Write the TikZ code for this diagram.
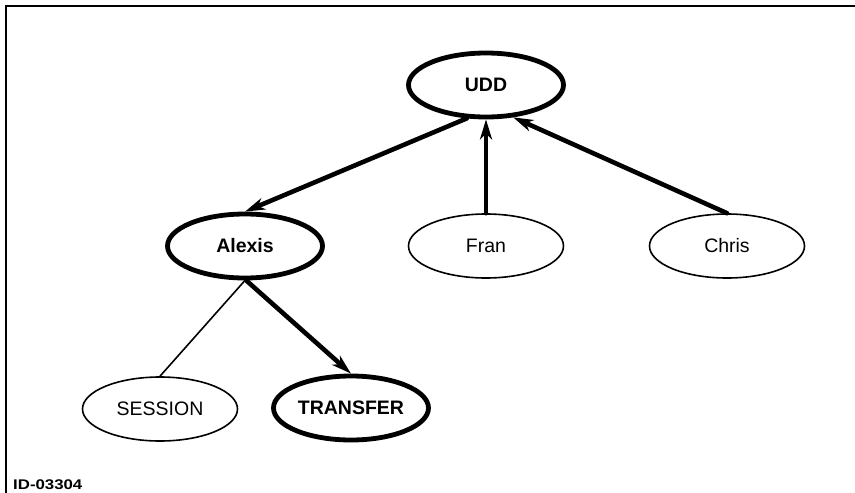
\documentclass[tikz,border=0pt]{standalone}
\usepackage{fontspec}
\setmainfont{Liberation Sans}
\usetikzlibrary{shapes.geometric,arrows.meta}
\begin{document}
\begin{tikzpicture}[x=1pt,y=-1pt,
  every node/.style={font=\fontsize{19.5}{22}\selectfont},
  oval/.style={ellipse,draw,minimum width=155pt,minimum height=64pt,inner sep=0pt},
  heavy/.style={oval,line width=4.8pt,font=\bfseries\fontsize{19.5}{22}\selectfont},
  light/.style={oval,line width=1.6pt},
  flow/.style={line width=4.6pt,line cap=round,-{Stealth[length=20pt,width=12pt,inset=6pt]}},
  link/.style={line width=1.6pt},
  frame/.style={line width=2pt}]
\useasboundingbox (0,0) rectangle (855,493);

% open frame: top and left edges only
\coordinate (tr) at (855,6);
\coordinate (corner) at (6,6);
\coordinate (bl) at (6,493);
\draw[frame] (tr) -- (corner) -- (bl);

% nodes
\node[heavy] (udd) at (486,85) {UDD};
\node[heavy] (alexis) at (245,246) {Alexis};
\node[light] (fran) at (486,246) {Fran};
\node[light] (chris) at (727,246) {Chris};
\node[light] (session) at (160,409) {SESSION};
\node[heavy] (transfer) at (351,408) {TRANSFER};

% connectors
\draw[flow] (udd.-120) -- (alexis.north);
\draw[flow] (fran.north) -- (udd.south);
\draw[flow] (chris.north) -- (udd.-50);
\draw[flow] (alexis.-88) -- (transfer.north);
\draw[link] (alexis.south) -- (session.north);

% figure id
\node[anchor=base west,inner sep=0pt,xscale=1.2,font=\bfseries\fontsize{14}{17}\selectfont] (figid) at (13,489) {ID-03304};
\end{tikzpicture}
\end{document}
